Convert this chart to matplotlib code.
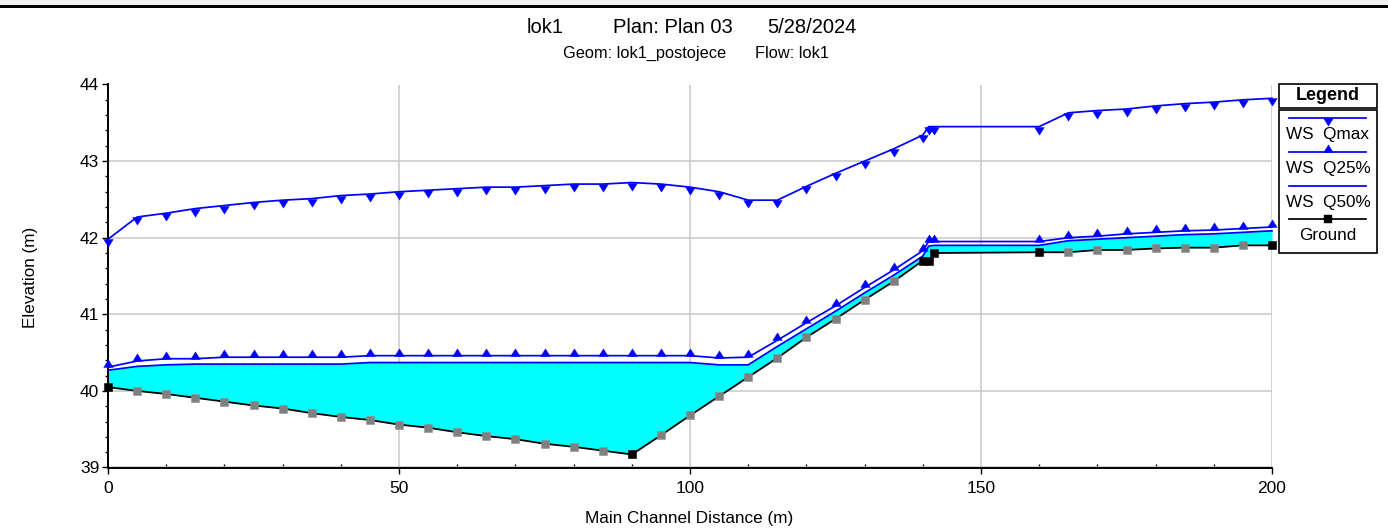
import matplotlib
matplotlib.use('Agg')
import matplotlib.pyplot as plt
from matplotlib.path import Path
from matplotlib.patches import Rectangle
from matplotlib.lines import Line2D
from matplotlib.ticker import MultipleLocator

plt.rcParams['font.family'] = ['Liberation Sans', 'DejaVu Sans']

# ---------------- data ----------------
stations = [0, 5, 10, 15, 20, 25, 30, 35, 40, 45, 50, 55, 60, 65, 70, 75, 80, 85, 90,
            95, 100, 105, 110, 115, 120, 125, 130, 135, 140, 141, 142,
            160, 165, 170, 175, 180, 185, 190, 195, 200]

ws_qmax = [41.98, 42.27, 42.32, 42.38, 42.42, 42.46, 42.49, 42.51, 42.55, 42.57, 42.60,
           42.62, 42.64, 42.66, 42.66, 42.68, 42.70, 42.70, 42.72,
           42.70, 42.66, 42.60, 42.49, 42.49, 42.67, 42.84, 43.00, 43.16, 43.34, 43.45, 43.45,
           43.45, 43.63, 43.66, 43.68, 43.72, 43.75, 43.77, 43.80, 43.82]

ws_q25 = [40.31, 40.39, 40.42, 40.42, 40.44, 40.44, 40.44, 40.44, 40.44, 40.46, 40.46,
          40.46, 40.46, 40.46, 40.46, 40.46, 40.46, 40.46, 40.46,
          40.46, 40.46, 40.43, 40.44, 40.66, 40.89, 41.11, 41.35, 41.58, 41.83, 41.95, 41.95,
          41.95, 42.00, 42.02, 42.05, 42.07, 42.09, 42.10, 42.12, 42.14]

ws_q50 = [40.27, 40.32, 40.34, 40.35, 40.35, 40.35, 40.35, 40.35, 40.35, 40.37, 40.37,
          40.37, 40.37, 40.37, 40.37, 40.37, 40.37, 40.37, 40.37,
          40.37, 40.37, 40.34, 40.34, 40.58, 40.81, 41.04, 41.28, 41.51, 41.76, 41.89, 41.90,
          41.90, 41.96, 41.98, 42.00, 42.02, 42.04, 42.05, 42.07, 42.09]

ground = [40.05, 40.00, 39.96, 39.91, 39.86, 39.81, 39.77, 39.71, 39.66, 39.62, 39.56,
          39.52, 39.46, 39.41, 39.37, 39.31, 39.27, 39.22, 39.17,
          39.42, 39.68, 39.93, 40.18, 40.43, 40.70, 40.94, 41.19, 41.43, 41.70, 41.70, 41.80,
          41.81, 41.81, 41.84, 41.84, 41.86, 41.87, 41.87, 41.90, 41.90]

# surveyed (True) vs interpolated (False) cross sections
surveyed = [True] + [False] * 17 + [True] + [False] * 9 + [True, True, True] + \
           [True] + [False] * 7 + [True]

xticks = [0, 50, 100, 150, 200]
yticks = [39, 40, 41, 42, 43, 44]

title_parts = ['lok1', 'Plan: Plan 03', '5/28/2024']
subtitle_parts = ['Geom: lok1_postojece', 'Flow: lok1']
legend_labels = ['WS  Qmax', 'WS  Q25%', 'WS  Q50%', 'Ground']

# ---------------- styles ----------------
BLUE = '#0000ff'
W, H = 1388, 529
LW = 1.25
TRI_MS = 11
SQ_MS = 6


def fx(px):
    return px / W


def fy(py):
    return 1 - py / H


down_tri = Path([(-1, 0), (1, 0), (0, -1.6), (-1, 0)],
                [Path.MOVETO, Path.LINETO, Path.LINETO, Path.CLOSEPOLY])
up_tri = Path([(-1, 0), (1, 0), (0, 1.6), (-1, 0)],
              [Path.MOVETO, Path.LINETO, Path.LINETO, Path.CLOSEPOLY])

fig = plt.figure(figsize=(W / 100, H / 100), dpi=100)
fig.patch.set_facecolor('white')

# top band
fig.add_artist(Rectangle((0, fy(5)), 1, fy(0) - fy(5), transform=fig.transFigure,
                         facecolor='#f0f0f0', edgecolor='none'))
fig.add_artist(Rectangle((0, fy(7.5)), 1, fy(5) - fy(7.5), transform=fig.transFigure,
                         facecolor='black', edgecolor='none'))

ax = fig.add_axes([fx(108), fy(467.5), fx(1272) - fx(108), fy(84.5) - fy(467.5)])
ax.set_xlim(0, 200)
ax.set_ylim(39, 44)
ax.set_axisbelow(True)
ax.grid(True, which='major', color='#c8c8c8', lw=1.1)
for s in ['top', 'right']:
    ax.spines[s].set_visible(False)
for s in ['left', 'bottom']:
    ax.spines[s].set_color('black')
    ax.spines[s].set_linewidth(1.4)

ax.set_xticks(xticks)
ax.set_yticks(yticks)
ax.xaxis.set_minor_locator(MultipleLocator(10))
ax.yaxis.set_minor_locator(MultipleLocator(0.2))
ax.tick_params(axis='x', which='major', direction='out', length=4, width=1,
               labelsize=12.5, pad=6)
ax.tick_params(axis='x', which='minor', direction='in', length=3, width=1)
ax.tick_params(axis='y', which='major', direction='out', length=4.3, width=1,
               labelsize=12.5, pad=2)
ax.tick_params(axis='y', which='minor', direction='out', length=2.5, width=1)

ax.fill_between(stations, ground, ws_q50, color='#00ffff', lw=0, zorder=2)

ax.plot(stations, ws_q50, color=BLUE, lw=LW, zorder=3, clip_on=False)
ax.plot(stations, ws_q25, color=BLUE, lw=LW, marker=up_tri, ms=TRI_MS,
        mfc=BLUE, mec=BLUE, mew=0.3, zorder=4, clip_on=False)
ax.plot(stations, ws_qmax, color=BLUE, lw=LW, marker=down_tri, ms=TRI_MS,
        mfc=BLUE, mec=BLUE, mew=0.3, zorder=4, clip_on=False)
ax.plot(stations, ground, color='black', lw=1.3, zorder=5, clip_on=False)

gx_i = [x for x, s in zip(stations, surveyed) if not s]
gy_i = [y for y, s in zip(ground, surveyed) if not s]
gx_s = [x for x, s in zip(stations, surveyed) if s]
gy_s = [y for y, s in zip(ground, surveyed) if s]
ax.plot(gx_i, gy_i, ls='none', marker='s', ms=SQ_MS, mfc='#808080', mec='#909090',
        mew=0.4, zorder=6, clip_on=False)
ax.plot(gx_s, gy_s, ls='none', marker='s', ms=SQ_MS, mfc='black', mec='black',
        mew=0.4, zorder=6, clip_on=False)

# titles
for txt, px in zip(title_parts, [527, 613, 767]):
    fig.text(fx(px), fy(33), txt, fontsize=14.5, ha='left', va='baseline')
for txt, px in zip(subtitle_parts, [563, 755]):
    fig.text(fx(px), fy(57.5), txt, fontsize=11.8, ha='left', va='baseline')

fig.text(fx(30), fy(277), 'Elevation (m)', rotation=90, fontsize=12.3,
         ha='center', va='center')
fig.text(fx(689), fy(519), 'Main Channel Distance (m)', fontsize=12.3,
         ha='center', va='center')

# legend
lx0, lx1 = 1279, 1377
fig.add_artist(Rectangle((fx(lx0), fy(108)), fx(lx1) - fx(lx0), fy(84) - fy(108),
                         transform=fig.transFigure, facecolor='white',
                         edgecolor='black', lw=1.2))
fig.add_artist(Rectangle((fx(lx0), fy(253)), fx(lx1) - fx(lx0), fy(110) - fy(253),
                         transform=fig.transFigure, facecolor='white',
                         edgecolor='black', lw=1.2))
fig.text(fx(1328), fy(96), 'Legend', fontsize=13, fontweight='bold',
         ha='center', va='center')

sx0, sxc, sx1 = 1289, 1328, 1366
entries = [
    (117.7, BLUE, down_tri, BLUE, TRI_MS, 135),
    (151.7, BLUE, up_tri, BLUE, TRI_MS, 169),
    (186.0, BLUE, None, None, 0, 202),
    (218.5, 'black', 's', 'black', SQ_MS, 235),
]
for (ly, col, mk, mcol, ms, ty), lab in zip(entries, legend_labels):
    ln = Line2D([fx(sx0), fx(sxc), fx(sx1)], [fy(ly)] * 3, transform=fig.transFigure,
                color=col, lw=LW)
    if mk is not None:
        ln.set_marker(mk)
        ln.set_markevery([1])
        ln.set_markersize(ms)
        ln.set_markerfacecolor(mcol)
        ln.set_markeredgecolor(mcol)
        ln.set_markeredgewidth(0.3)
    fig.add_artist(ln)
    fig.text(fx(1328), fy(ty), lab, fontsize=12.3, ha='center', va='center')

fig.savefig('out.png', dpi=100)
